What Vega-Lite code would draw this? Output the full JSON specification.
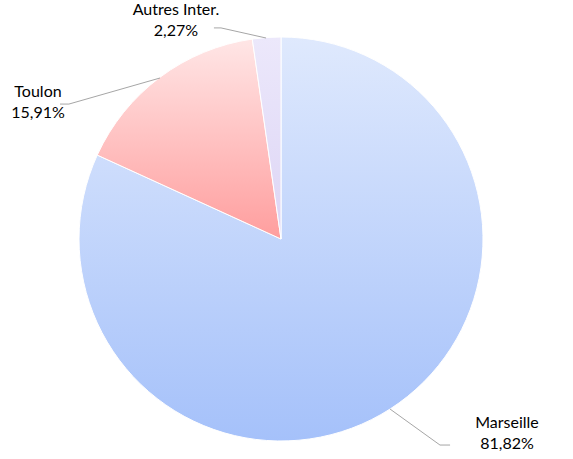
{
  "$schema": "https://vega.github.io/schema/vega-lite/v6.json",
  "autosize": "none",
  "width": 404,
  "height": 404,
  "padding": {"left": 79, "top": 37, "right": 90, "bottom": 18},
  "background": "#ffffff",
  "config": {"view": {"stroke": null}},
  "datasets": {
    "slices": [
      {"name": "Marseille", "value": 81.82},
      {"name": "Toulon", "value": 15.91},
      {"name": "Autres Inter.", "value": 2.27}
    ],
    "labels": [
      {"name": "Autres Inter.", "lx": -0.52, "ly": 1.134, "label": ["Autres Inter.", "2,27%"]},
      {"name": "Toulon", "lx": -1.203, "ly": 0.728, "label": ["Toulon", "15,91%"]},
      {"name": "Marseille", "lx": 1.119, "ly": -0.911, "label": ["Marseille", "81,82%"]}
    ],
    "leaders": [
      {"name": "Autres Inter.", "k": 0, "px": -0.074, "py": 0.995},
      {"name": "Autres Inter.", "k": 1, "px": -0.297, "py": 1.045},
      {"name": "Autres Inter.", "k": 2, "px": -0.332, "py": 1.045},
      {"name": "Toulon", "k": 0, "px": -0.599, "py": 0.797},
      {"name": "Toulon", "k": 1, "px": -1.05, "py": 0.668},
      {"name": "Toulon", "k": 2, "px": -1.094, "py": 0.668},
      {"name": "Marseille", "k": 0, "px": 0.54, "py": -0.842},
      {"name": "Marseille", "k": 1, "px": 0.787, "py": -1.02},
      {"name": "Marseille", "k": 2, "px": 0.837, "py": -1.02}
    ]
  },
  "layer": [
    {
      "data": {"name": "slices"},
      "transform": [
        {"stack": "value", "groupby": [], "as": ["v0", "v1"], "sort": [{"field": "value", "order": "descending"}]},
        {"filter": "datum.name === 'Marseille'"}
      ],
      "mark": {
        "type": "arc",
        "stroke": "#ffffff",
        "strokeWidth": 1,
        "fill": {"gradient": "linear", "x1": 0, "y1": 0, "x2": 0, "y2": 1,
          "stops": [{"offset": 0, "color": "#dfe9fd"}, {"offset": 1, "color": "#a5c1fa"}]}
      },
      "encoding": {
        "theta": {"field": "v0", "type": "quantitative", "scale": {"domain": [0, 100]}},
        "theta2": {"field": "v1"}
      }
    },
    {
      "data": {"name": "slices"},
      "transform": [
        {"stack": "value", "groupby": [], "as": ["v0", "v1"], "sort": [{"field": "value", "order": "descending"}]},
        {"filter": "datum.name === 'Toulon'"}
      ],
      "mark": {
        "type": "arc",
        "stroke": "#ffffff",
        "strokeWidth": 1,
        "fill": {"gradient": "linear", "x1": 0, "y1": 0, "x2": 0, "y2": 1,
          "stops": [{"offset": 0, "color": "#ffe6e6"}, {"offset": 1, "color": "#ff9e9e"}]}
      },
      "encoding": {
        "theta": {"field": "v0", "type": "quantitative", "scale": {"domain": [0, 100]}},
        "theta2": {"field": "v1"}
      }
    },
    {
      "data": {"name": "slices"},
      "transform": [
        {"stack": "value", "groupby": [], "as": ["v0", "v1"], "sort": [{"field": "value", "order": "descending"}]},
        {"filter": "datum.name === 'Autres Inter.'"}
      ],
      "mark": {
        "type": "arc",
        "stroke": "#ffffff",
        "strokeWidth": 1,
        "fill": {"gradient": "linear", "x1": 0, "y1": 0, "x2": 0, "y2": 1,
          "stops": [{"offset": 0, "color": "#ece8fb"}, {"offset": 1, "color": "#ddd5f5"}]}
      },
      "encoding": {
        "theta": {"field": "v0", "type": "quantitative", "scale": {"domain": [0, 100]}},
        "theta2": {"field": "v1"}
      }
    },
    {
      "data": {"name": "leaders"},
      "mark": {"type": "line", "color": "#a6a6a6", "strokeWidth": 1},
      "encoding": {
        "x": {"field": "px", "type": "quantitative", "scale": {"domain": [-1, 1], "nice": false, "zero": false}, "axis": null},
        "y": {"field": "py", "type": "quantitative", "scale": {"domain": [-1, 1], "nice": false, "zero": false}, "axis": null},
        "detail": {"field": "name"},
        "order": {"field": "k"}
      }
    },
    {
      "data": {"name": "labels"},
      "mark": {"type": "text", "font": "Lato", "fontSize": 16, "color": "#000000", "align": "center", "baseline": "middle", "lineHeight": 21},
      "encoding": {
        "x": {"field": "lx", "type": "quantitative", "scale": {"domain": [-1, 1], "nice": false, "zero": false}, "axis": null},
        "y": {"field": "ly", "type": "quantitative", "scale": {"domain": [-1, 1], "nice": false, "zero": false}, "axis": null},
        "text": {"field": "label"}
      }
    }
  ]
}
